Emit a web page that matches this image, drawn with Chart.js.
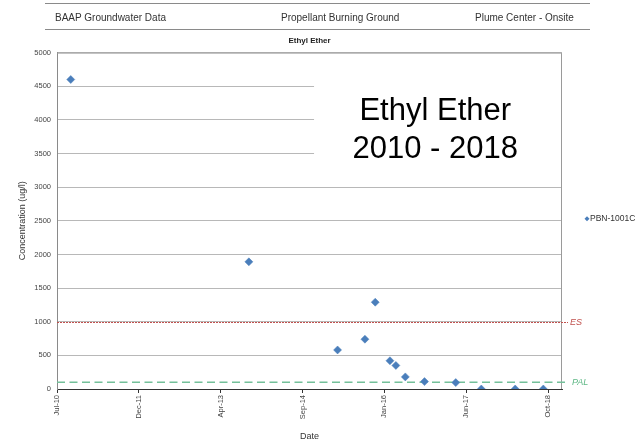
<!DOCTYPE html>
<html>
<head>
<meta charset="utf-8">
<script src="https://cdn.jsdelivr.net/npm/chart.js@4.4.0/dist/chart.umd.min.js"></script>
<style>
    html, body { margin: 0; padding: 0; background: #fff; }
    #wrap { position: relative; width: 636px; height: 445px; font-family: 'Liberation Sans', Arial, sans-serif; }
    canvas { position: absolute; left: 0; top: 0; }
    .hdr { position: absolute; left: 45px; width: 545px; border-top: 1px solid #8a8a8a; }
    .ht { position: absolute; top: 12px; font-size: 10px; color: #333; white-space: nowrap; }
</style>
</head>
<body>
<div id="wrap">
    <canvas id="myChart" width="636" height="445" style="width:636px;height:445px"></canvas>
    <div class="hdr" style="top:3px"></div>
    <div class="hdr" style="top:29px"></div>
    <div class="ht" style="left:55px">BAAP Groundwater Data</div>
    <div class="ht" style="left:281px">Propellant Burning Ground</div>
    <div class="ht" style="left:475px">Plume Center - Onsite</div>
</div>
<script>
const axisStart = '2010-07-28'
const axisMaxDays = 3085
const tickStep = 500
const tickLabels = ['Jul-10', 'Dec-11', 'Apr-13', 'Sep-14', 'Jan-16', 'Jun-17', 'Oct-18']

const sampleDates = ['2010-10-20', '2013-10-12', '2015-04-07', '2015-09-21', '2015-11-23', '2016-02-21',
    '2016-03-28', '2016-05-25', '2016-09-19', '2017-03-29', '2017-09-01', '2018-03-27', '2018-09-15']
const concValues = [4600, 1890, 580, 740, 1290, 420, 350, 180, 110, 95, 0, 0, 0]

const esLimit = 1000
const palLimit = 100
const captionLines = ['Ethyl Ether', '2010 - 2018']

const FONT = "'Liberation Sans', Arial, sans-serif"
Chart.defaults.font.family = FONT

function days_from_start(d) {
    return (Date.parse(d) - Date.parse(axisStart)) / 86400000
}

let points = sampleDates.map((d, i) => ({ x: days_from_start(d), y: concValues[i] }))

// limit lines, caption box, plot frame and the legend entry
const extras = {
    id: 'extras',
    beforeDatasetsDraw(chart) {
        const { ctx, chartArea: a, scales: { y } } = chart
        ctx.save()
        // white box behind the caption hides the grid lines
        let bx = a.left + (a.right - a.left) * 0.509
        ctx.fillStyle = '#fff'
        ctx.fillRect(bx, a.top + 1, a.right - 1 - bx, y.getPixelForValue(3000) - a.top - 2)

        // top and right frame
        ctx.strokeStyle = '#9a9a9a'
        ctx.lineWidth = 1
        ctx.beginPath()
        ctx.moveTo(a.left, a.top + 0.5)
        ctx.lineTo(a.right - 0.5, a.top + 0.5)
        ctx.lineTo(a.right - 0.5, a.bottom)
        ctx.stroke()

        // caption
        let cx = a.left + (a.right - a.left) * 0.749
        ctx.fillStyle = '#000'
        ctx.font = '31px ' + FONT
        ctx.textAlign = 'center'
        ctx.textBaseline = 'alphabetic'
        ctx.fillText(captionLines[0], cx, a.top + 67)
        ctx.fillText(captionLines[1], cx, a.top + 105)

        // ES line
        let ye = Math.round(y.getPixelForValue(esLimit)) + 0.5
        ctx.strokeStyle = '#c0504d'
        ctx.lineWidth = 1
        ctx.setLineDash([2, 1])
        ctx.beginPath()
        ctx.moveTo(a.left, ye)
        ctx.lineTo(a.right + 6, ye)
        ctx.stroke()

        // PAL line
        let yp = y.getPixelForValue(palLimit)
        ctx.strokeStyle = '#74c09a'
        ctx.lineWidth = 1.5
        ctx.setLineDash([8, 4.5])
        ctx.beginPath()
        ctx.moveTo(a.left, yp)
        ctx.lineTo(a.right + 7, yp)
        ctx.stroke()
        ctx.setLineDash([])

        ctx.font = 'italic 9px ' + FONT
        ctx.textAlign = 'left'
        ctx.textBaseline = 'middle'
        ctx.fillStyle = '#c0504d'
        ctx.fillText('ES', a.right + 8, ye)
        ctx.fillStyle = '#5fb886'
        ctx.fillText('PAL', a.right + 10, yp)
        ctx.restore()
    },
    afterDraw(chart) {
        const { ctx, chartArea: a } = chart
        const ds = chart.data.datasets[0]
        let lx = a.right + 25
        let ly = (a.top + a.bottom) / 2 - 2
        ctx.save()
        ctx.fillStyle = ds.backgroundColor
        ctx.beginPath()
        ctx.moveTo(lx, ly - 2.5)
        ctx.lineTo(lx + 2.5, ly)
        ctx.lineTo(lx, ly + 2.5)
        ctx.lineTo(lx - 2.5, ly)
        ctx.closePath()
        ctx.fill()
        ctx.font = '8.5px ' + FONT
        ctx.fillStyle = '#333'
        ctx.textBaseline = 'middle'
        ctx.fillText(ds.label, lx + 3, ly)
        ctx.restore()
    }
}

document.addEventListener('DOMContentLoaded', function () {
    var ctx = document.getElementById('myChart').getContext('2d')

    new Chart(ctx, {
        type: 'scatter',
        data: {
            datasets: [{
                label: 'PBN-1001C',
                data: points,
                pointStyle: 'rectRot',
                pointRadius: 4,
                pointHoverRadius: 4,
                backgroundColor: '#4a7ebb',
                borderColor: '#4a7ebb',
                borderWidth: 0.5
            }]
        },
        options: {
            responsive: false,
            animation: false,
            layout: { padding: { right: 74 } },
            plugins: {
                legend: { display: false },
                tooltip: { enabled: false },
                title: {
                    display: true,
                    text: 'Ethyl Ether',
                    fullSize: false,
                    color: '#222',
                    font: { size: 8, weight: 'bold' },
                    padding: { top: 36, bottom: 7 }
                }
            },
            scales: {
                x: {
                    type: 'linear',
                    min: 0,
                    max: axisMaxDays,
                    afterBuildTicks: function (s) {
                        s.ticks = tickLabels.map((_, i) => ({ value: i * tickStep }))
                    },
                    afterFit: function (s) { s.height = 56 },
                    ticks: {
                        callback: (v, i) => tickLabels[i],
                        minRotation: 90,
                        maxRotation: 90,
                        color: '#444',
                        font: { size: 7.5 },
                        padding: 2
                    },
                    grid: { drawOnChartArea: false, drawTicks: true, tickLength: 4, color: '#333' },
                    border: { color: '#333', width: 1 },
                    title: {
                        display: true,
                        text: 'Date',
                        color: '#333',
                        font: { size: 9 },
                        padding: { top: 0, bottom: 2.6 }
                    }
                },
                y: {
                    min: 0,
                    max: 5000,
                    afterFit: function (s) { s.width = 57 },
                    ticks: {
                        stepSize: 500,
                        callback: v => String(v),
                        color: '#444',
                        font: { size: 7.5 },
                        padding: 6
                    },
                    grid: { color: '#b8b8b8', drawTicks: false },
                    border: { color: '#8a8a8a' },
                    title: {
                        display: true,
                        text: 'Concentration (ug/l)',
                        color: '#333',
                        font: { size: 9 },
                        padding: { top: 17.6, bottom: 0 }
                    }
                }
            }
        },
        plugins: [extras]
    })
})
</script>
</body>
</html>
